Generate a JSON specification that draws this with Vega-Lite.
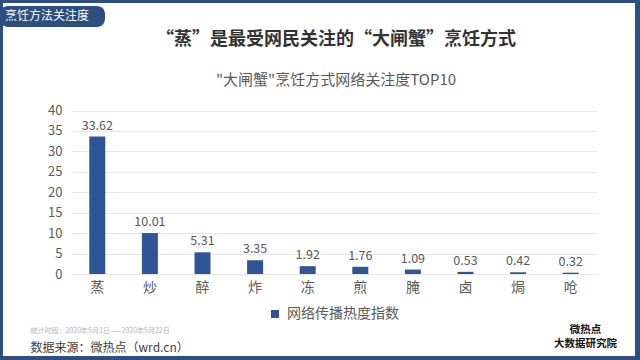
{
  "$schema": "https://vega.github.io/schema/vega-lite/v6.json",
  "width": 632,
  "height": 353,
  "autosize": {"type": "none"},
  "padding": {"left": 3, "top": 3, "right": 5, "bottom": 4},
  "background": "#2c4f7f",
  "config": {
    "font": "Noto Sans CJK SC",
    "view": {"fill": "#ffffff", "stroke": null}
  },
  "title": {
    "text": "“蒸”是最受网民关注的“大闸蟹”烹饪方式",
    "subtitle": "\"大闸蟹\"烹饪方式网络关注度TOP10",
    "anchor": "middle",
    "frame": "group",
    "offset": -85,
    "dx": 17,
    "fontSize": 18,
    "fontWeight": "bold",
    "color": "#333333",
    "subtitleFontSize": 15,
    "subtitleColor": "#595959",
    "subtitlePadding": 24
  },
  "data": {
    "values": [
      {"method": "蒸", "value": 33.62},
      {"method": "炒", "value": 10.01},
      {"method": "醉", "value": 5.31},
      {"method": "炸", "value": 3.35},
      {"method": "冻", "value": 1.92},
      {"method": "煎", "value": 1.76},
      {"method": "腌", "value": 1.09},
      {"method": "卤", "value": 0.53},
      {"method": "焗", "value": 0.42},
      {"method": "呛", "value": 0.32}
    ]
  },
  "layer": [
    {
      "mark": {"type": "bar"},
      "encoding": {
        "x": {
          "field": "method",
          "type": "nominal",
          "sort": null,
          "scale": {"range": [68, 594], "paddingInner": 0.696, "paddingOuter": 0.348},
          "axis": {
            "orient": "bottom",
            "offset": -82,
            "domain": false,
            "ticks": false,
            "tickSize": 0,
            "labelPadding": 6,
            "labelFontSize": 14,
            "labelColor": "#595959",
            "labelAngle": 0,
            "title": "数据来源：微热点（wrd.cn）",
            "titleX": 27,
            "titleY": 73,
            "titleAlign": "left",
            "titleBaseline": "middle",
            "titleFontSize": 12,
            "titleFontWeight": "normal",
            "titleColor": "#404040"
          }
        },
        "y": {
          "field": "value",
          "type": "quantitative",
          "scale": {"domain": [-20.06, 66.3], "nice": false, "zero": false},
          "axis": {
            "values": [0, 5, 10, 15, 20, 25, 30, 35, 40],
            "offset": -63,
            "domain": false,
            "ticks": false,
            "tickSize": 0,
            "labelPadding": 4,
            "labelFontSize": 13,
            "labelColor": "#595959",
            "grid": true,
            "gridColor": "#e6e6e6",
            "title": "统计时段：2020年9月1日——2020年9月22日",
            "titleAngle": 0,
            "titleX": -36,
            "titleY": 327,
            "titleAlign": "left",
            "titleBaseline": "middle",
            "titleFontSize": 7,
            "titleFontWeight": "normal",
            "titleColor": "#b0b0b0"
          }
        },
        "color": {
          "datum": "网络传播热度指数",
          "type": "nominal",
          "scale": {"range": ["#2f5597"]},
          "legend": {
            "orient": "none",
            "legendX": 265,
            "legendY": 304,
            "title": null,
            "padding": 0,
            "symbolType": "square",
            "symbolSize": 64,
            "symbolStrokeWidth": 0,
            "labelFontSize": 14,
            "labelColor": "#595959",
            "labelOffset": 5
          }
        },
        "opacity": {
          "datum": "烹饪方法关注度",
          "type": "ordinal",
          "scale": {"range": [1, 1]},
          "legend": {
            "orient": "none",
            "legendX": -3,
            "legendY": 3,
            "fillColor": "#2c4f7f",
            "cornerRadius": 8,
            "padding": 5,
            "title": "烹饪方法关注度",
            "titleColor": "#ffffff",
            "titleFontSize": 12,
            "titleFontWeight": "normal",
            "titleOrient": "left",
            "titlePadding": 0,
            "symbolSize": 0,
            "symbolOpacity": 0,
            "symbolStrokeWidth": 0,
            "labelExpr": "''",
            "labelOffset": 0
          }
        }
      }
    },
    {
      "mark": {"type": "text", "dy": -7, "baseline": "alphabetic", "fontSize": 12.5, "color": "#595959"},
      "encoding": {
        "x": {"field": "method", "type": "nominal", "sort": null},
        "y": {
          "field": "value",
          "type": "quantitative",
          "scale": {"domain": [-20.06, 66.3], "nice": false, "zero": false},
          "axis": {
            "orient": "right",
            "grid": false,
            "labels": false,
            "ticks": false,
            "domain": false,
            "title": ["微热点", "大数据研究院"],
            "titleAngle": 0,
            "titleX": -50,
            "titleY": 321,
            "titleAlign": "center",
            "titleBaseline": "top",
            "titleFontSize": 10.5,
            "titleFontWeight": "bold",
            "titleColor": "#111111",
            "titleLineHeight": 14
          }
        },
        "text": {"field": "value", "type": "quantitative", "format": ".2f"}
      }
    }
  ],
  "resolve": {"scale": {"y": "independent"}}
}
